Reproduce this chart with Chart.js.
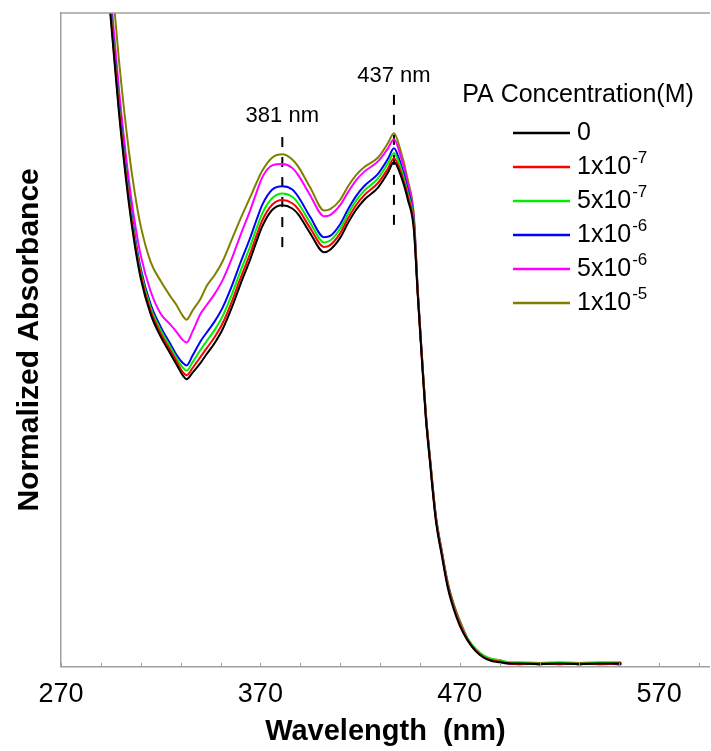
<!DOCTYPE html>
<html>
<head>
<meta charset="utf-8">
<script src="https://cdn.jsdelivr.net/npm/chart.js@4.4.0/dist/chart.umd.min.js"></script>
<style>
  html, body { margin: 0; padding: 0; background: #fff; }
</style>
</head>
<body>
<canvas id="absChart" width="711" height="751"></canvas>
<script>
// wavelength grid (nm)
const wavelengths = [290,295,299,304,307,310,315,320,325,328,331,333,336,340,343,347,351,356,360,365,368,371,376,381,386,389,395,402,405,410,414,418,422,429,434,437,440,444,447,449,451,453,455,458,461,464,467,470,474,478,482,486,490,495,500,510,520,530,540,551];

// normalized absorbance for each PA concentration
const abs0 = [1.16,0.99,0.85,0.71,0.645,0.594,0.539,0.505,0.478,0.462,0.446,0.440,0.450,0.465,0.478,0.495,0.516,0.552,0.585,0.624,0.650,0.674,0.699,0.706,0.701,0.692,0.663,0.634,0.638,0.656,0.679,0.699,0.714,0.733,0.756,0.772,0.755,0.714,0.668,0.565,0.470,0.380,0.315,0.224,0.170,0.121,0.088,0.063,0.040,0.024,0.014,0.009,0.007,0.005,0.005,0.004,0.005,0.004,0.005,0.005];
const abs1e7 = [1.165,0.995,0.855,0.715,0.650,0.599,0.544,0.510,0.483,0.467,0.451,0.446,0.457,0.474,0.487,0.504,0.525,0.561,0.594,0.633,0.659,0.683,0.707,0.714,0.709,0.700,0.671,0.642,0.645,0.663,0.686,0.706,0.721,0.740,0.762,0.778,0.760,0.719,0.673,0.568,0.473,0.383,0.318,0.227,0.173,0.124,0.091,0.066,0.041,0.025,0.015,0.010,0.008,0.005,0.004,0.005,0.004,0.005,0.004,0.005];
const abs5e7 = [1.17,1.00,0.86,0.72,0.655,0.604,0.549,0.515,0.488,0.472,0.458,0.453,0.466,0.485,0.498,0.515,0.536,0.572,0.605,0.644,0.670,0.694,0.717,0.724,0.719,0.709,0.679,0.649,0.652,0.670,0.693,0.713,0.728,0.747,0.770,0.786,0.767,0.724,0.678,0.570,0.475,0.385,0.320,0.229,0.175,0.126,0.093,0.068,0.043,0.027,0.017,0.012,0.010,0.007,0.007,0.006,0.007,0.006,0.007,0.007];
const abs1e6 = [1.175,1.005,0.865,0.725,0.660,0.609,0.554,0.520,0.493,0.477,0.465,0.461,0.476,0.498,0.511,0.528,0.549,0.585,0.618,0.657,0.683,0.707,0.730,0.735,0.730,0.719,0.688,0.657,0.659,0.677,0.700,0.720,0.735,0.754,0.777,0.793,0.773,0.729,0.680,0.570,0.475,0.385,0.320,0.229,0.175,0.126,0.093,0.068,0.042,0.026,0.016,0.011,0.009,0.005,0.005,0.004,0.005,0.004,0.005,0.004];
const abs5e6 = [1.195,1.025,0.885,0.745,0.680,0.629,0.574,0.540,0.523,0.512,0.500,0.496,0.513,0.540,0.553,0.570,0.591,0.627,0.660,0.699,0.725,0.749,0.767,0.769,0.763,0.752,0.721,0.689,0.691,0.706,0.726,0.744,0.757,0.773,0.793,0.807,0.785,0.739,0.686,0.571,0.476,0.386,0.321,0.230,0.176,0.127,0.094,0.069,0.042,0.026,0.016,0.011,0.009,0.005,0.004,0.005,0.004,0.005,0.004,0.005];
const abs1e5 = [1.24,1.07,0.93,0.79,0.725,0.674,0.619,0.590,0.566,0.553,0.537,0.531,0.545,0.563,0.582,0.599,0.620,0.656,0.685,0.719,0.740,0.759,0.779,0.784,0.776,0.765,0.733,0.698,0.700,0.714,0.735,0.752,0.764,0.779,0.801,0.816,0.793,0.744,0.690,0.573,0.478,0.388,0.323,0.232,0.178,0.129,0.096,0.071,0.043,0.027,0.017,0.012,0.010,0.006,0.005,0.004,0.005,0.004,0.005,0.004];

const seriesValues = [abs0, abs1e7, abs5e7, abs1e6, abs5e6, abs1e5];
const seriesBase = ['0', '1x10', '5x10', '1x10', '5x10', '1x10'];
const seriesExp = ['', '-7', '-7', '-6', '-6', '-5'];
const seriesColors = ['#000000', '#ff0000', '#00ee00', '#0000ff', '#ff00ff', '#808000'];

// marked peaks
const peakWavelengths = [381, 437];
const peakLineFrom = [0.642, 0.676];
const peakLineTo = [0.816, 0.875];
const peakLabelLevel = [0.843, 0.903];

// x axis ticks
const xTickValues = [270,290,310,330,350,370,390,410,430,450,470,490,510,530,550,570,590];
const xMajorTicks = [270, 370, 470, 570];

const FONT = "'Liberation Sans', Arial, sans-serif";
const AXIS_GRAY = '#a0a0a0';

const datasets = seriesValues.map((vals, i) => ({
    label: seriesBase[i] + seriesExp[i],
    data: wavelengths.map((w, j) => ({ x: w, y: vals[j] })),
    borderColor: seriesColors[i],
    borderWidth: 2,
    pointRadius: 0,
    cubicInterpolationMode: 'monotone'
}));

peakWavelengths.forEach((w, i) => {
    datasets.push({
        label: 'peak' + w,
        data: [{ x: w, y: peakLineFrom[i] }, { x: w, y: peakLineTo[i] }],
        borderColor: '#000',
        borderWidth: 2,
        borderDash: [10, 10],
        pointRadius: 0
    });
});

const framePlugin = {
    id: 'frame',
    afterDraw(chart) {
        const { ctx, chartArea: a, scales: { x } } = chart;
        ctx.save();
        ctx.strokeStyle = AXIS_GRAY;
        ctx.lineWidth = 1.5;
        ctx.beginPath();
        ctx.moveTo(a.left, a.top);
        ctx.lineTo(a.right, a.top);
        ctx.stroke();
        // tick marks point inward
        ctx.lineWidth = 1;
        x.ticks.forEach(t => {
            const px = Math.round(x.getPixelForValue(t.value)) + 0.5;
            ctx.beginPath();
            ctx.moveTo(px, a.bottom);
            ctx.lineTo(px, a.bottom - 4);
            ctx.stroke();
        });
        ctx.restore();
    }
};

const peakLabelPlugin = {
    id: 'peakLabels',
    afterDatasetsDraw(chart) {
        const { ctx, scales: { x, y } } = chart;
        ctx.save();
        ctx.fillStyle = '#000';
        ctx.font = '22px ' + FONT;
        ctx.textAlign = 'center';
        ctx.textBaseline = 'middle';
        peakWavelengths.forEach((w, i) => {
            ctx.fillText(w + ' nm', x.getPixelForValue(w), y.getPixelForValue(peakLabelLevel[i]));
        });
        ctx.restore();
    }
};

const legendPlugin = {
    id: 'concLegend',
    afterDraw(chart) {
        const ctx = chart.ctx;
        ctx.save();
        ctx.fillStyle = '#000';
        ctx.textBaseline = 'middle';
        ctx.font = '25px ' + FONT;
        ctx.textAlign = 'center';
        ctx.fillText('PA Concentration(M)', 578, 95);
        ctx.textAlign = 'left';
        seriesBase.forEach((base, i) => {
            const rowY = 133 + i * 34;
            ctx.strokeStyle = seriesColors[i];
            ctx.lineWidth = 2.5;
            ctx.beginPath();
            ctx.moveTo(513, rowY);
            ctx.lineTo(570, rowY);
            ctx.stroke();
            ctx.font = '25px ' + FONT;
            ctx.fillText(base, 577, rowY);
            if (seriesExp[i]) {
                const w = ctx.measureText(base).width;
                ctx.font = '17px ' + FONT;
                ctx.fillText(seriesExp[i], 577 + w + 1, rowY - 9);
            }
        });
        ctx.restore();
    }
};

new Chart(document.getElementById('absChart'), {
    type: 'line',
    data: { datasets },
    options: {
        responsive: false,
        animation: false,
        devicePixelRatio: 1,
        layout: { padding: { left: 8, top: 13, right: 0, bottom: 2 } },
        plugins: {
            legend: { display: false },
            tooltip: { enabled: false }
        },
        scales: {
            x: {
                type: 'linear',
                min: 270,
                max: 595.5,
                afterBuildTicks: s => { s.ticks = xTickValues.map(v => ({ value: v })); },
                ticks: {
                    autoSkip: false,
                    maxRotation: 0,
                    padding: 12,
                    color: '#000',
                    font: { family: FONT, size: 27 },
                    callback: v => (xMajorTicks.includes(v) ? String(v) : '')
                },
                grid: { display: false, drawTicks: false },
                border: { color: AXIS_GRAY, width: 1.5 },
                title: {
                    display: true,
                    text: 'Wavelength  (nm)',
                    color: '#000',
                    font: { family: FONT, size: 29, weight: 'bold' },
                    padding: { top: -9, bottom: 0 }
                }
            },
            y: {
                min: 0,
                max: 1,
                ticks: { display: false },
                grid: { display: false, drawTicks: false },
                border: { color: AXIS_GRAY, width: 1.5 },
                title: {
                    display: true,
                    text: 'Normalized Absorbance',
                    color: '#000',
                    font: { family: FONT, size: 30, weight: 'bold' },
                    padding: { top: 4, bottom: 13 }
                }
            }
        }
    },
    plugins: [framePlugin, peakLabelPlugin, legendPlugin]
});
</script>
</body>
</html>
